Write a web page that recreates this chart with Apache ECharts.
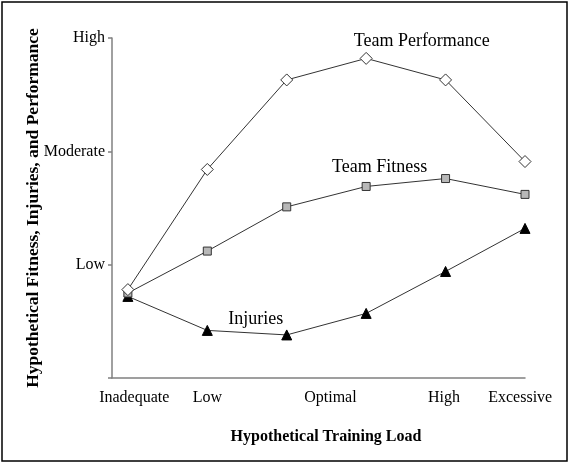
<!DOCTYPE html>
<html>
<head>
<meta charset="utf-8">
<script src="https://cdn.jsdelivr.net/npm/echarts@6/dist/echarts.min.js"></script>
<style>html,body{margin:0;padding:0;background:#fff}#c{width:570px;height:464px}</style>
</head>
<body>
<div id="c"></div>
<script>
// Load positions 0..5 along the x axis
var loadSteps = [0, 1, 2, 3, 4, 5];
var teamPerformance = [0.78, 1.84, 2.63, 2.82, 2.63, 1.91];
var teamFitness     = [0.75, 1.12, 1.51, 1.69, 1.76, 1.62];
var injuries        = [0.72, 0.42, 0.38, 0.57, 0.94, 1.32];
// x tick labels and where they sit on the load scale
var xTickLabels = ['Inadequate', 'Low', 'Optimal', 'High', 'Excessive'];
var xTickValues = [0.08, 1, 2.55, 3.98, 4.94];
// y tick labels for levels 0..3
var yTickLabels = ['', 'Low', 'Moderate', 'High'];
// series annotations in data coordinates
var annoPerformance = ['Team Performance', 3.70, 2.97];
var annoFitness = ['Team Fitness', 3.17, 1.86];
var annoInjuries = ['Injuries', 1.61, 0.52];

var FONT = '"Liberation Serif", "DejaVu Serif", serif';
function pairs(vals){ return loadSteps.map(function(x,i){ return [x, vals[i]]; }); }
function anno(a){
  return {
    symbol: 'circle', symbolSize: 1, silent: true,
    itemStyle: { color: 'rgba(0,0,0,0)' },
    label: { show: true, position: 'inside', formatter: a[0], color: '#000',
             fontFamily: FONT, fontSize: 18 },
    data: [{ coord: [a[1], a[2]] }]
  };
}
var chart = echarts.init(document.getElementById('c'), null, {renderer: 'canvas'});
chart.setOption({
  animation: false,
  backgroundColor: '#fff',
  graphic: [{ type: 'rect', shape: { x: 2, y: 2, width: 565, height: 459 },
              style: { fill: 'none', stroke: '#000', lineWidth: 1.5 }, silent: true }],
  grid: { left: 112, right: 45, top: 38, bottom: 86, containLabel: false },
  xAxis: {
    type: 'value', min: -0.2, max: 5,
    splitLine: { show: false },
    axisLine: { show: true, onZero: false, lineStyle: { color: '#808080', width: 1.5 } },
    axisTick: { show: false },
    axisLabel: {
      customValues: xTickValues,
      formatter: function(v){ var i = xTickValues.indexOf(v); return i >= 0 ? xTickLabels[i] : ''; },
      color: '#000', fontFamily: FONT, fontSize: 16, margin: 12
    },
    name: 'Hypothetical Training Load', nameLocation: 'middle', nameGap: 51,
    nameMoveOverlap: false,
    nameTextStyle: { color: '#000', fontFamily: FONT, fontSize: 16, fontWeight: 'bold', padding: [0,0,0,15] }
  },
  yAxis: {
    type: 'value', min: 0, max: 3, interval: 1,
    splitLine: { show: false },
    axisLine: { show: true, onZero: false, lineStyle: { color: '#808080', width: 1.5 } },
    axisTick: { show: true, length: 4, lineStyle: { color: '#808080', width: 1.5 } },
    axisLabel: {
      formatter: function(v){ return yTickLabels[Math.round(v)] || ''; },
      color: '#000', fontFamily: FONT, fontSize: 16, margin: 7
    },
    name: 'Hypothetical Fitness, Injuries, and Performance', nameLocation: 'middle', nameGap: 70,
    nameRotate: 90, nameMoveOverlap: false,
    nameTextStyle: { color: '#000', fontFamily: FONT, fontSize: 17.5, fontWeight: 'bold' }
  },
  series: [
    { name: 'Injuries', type: 'line', data: pairs(injuries),
      symbol: 'triangle', symbolSize: 10,
      lineStyle: { color: '#333', width: 1 },
      itemStyle: { color: '#000', borderColor: '#000', borderWidth: 1 },
      markPoint: anno(annoInjuries) },
    { name: 'Team Fitness', type: 'line', data: pairs(teamFitness),
      symbol: 'rect', symbolSize: 8,
      lineStyle: { color: '#333', width: 1 },
      itemStyle: { color: '#b8b8b8', borderColor: '#333', borderWidth: 1 },
      markPoint: anno(annoFitness) },
    { name: 'Team Performance', type: 'line', data: pairs(teamPerformance),
      symbol: 'diamond', symbolSize: 12,
      lineStyle: { color: '#333', width: 1 },
      itemStyle: { color: '#fff', borderColor: '#333', borderWidth: 1 },
      markPoint: anno(annoPerformance) }
  ]
});
</script>
</body>
</html>
